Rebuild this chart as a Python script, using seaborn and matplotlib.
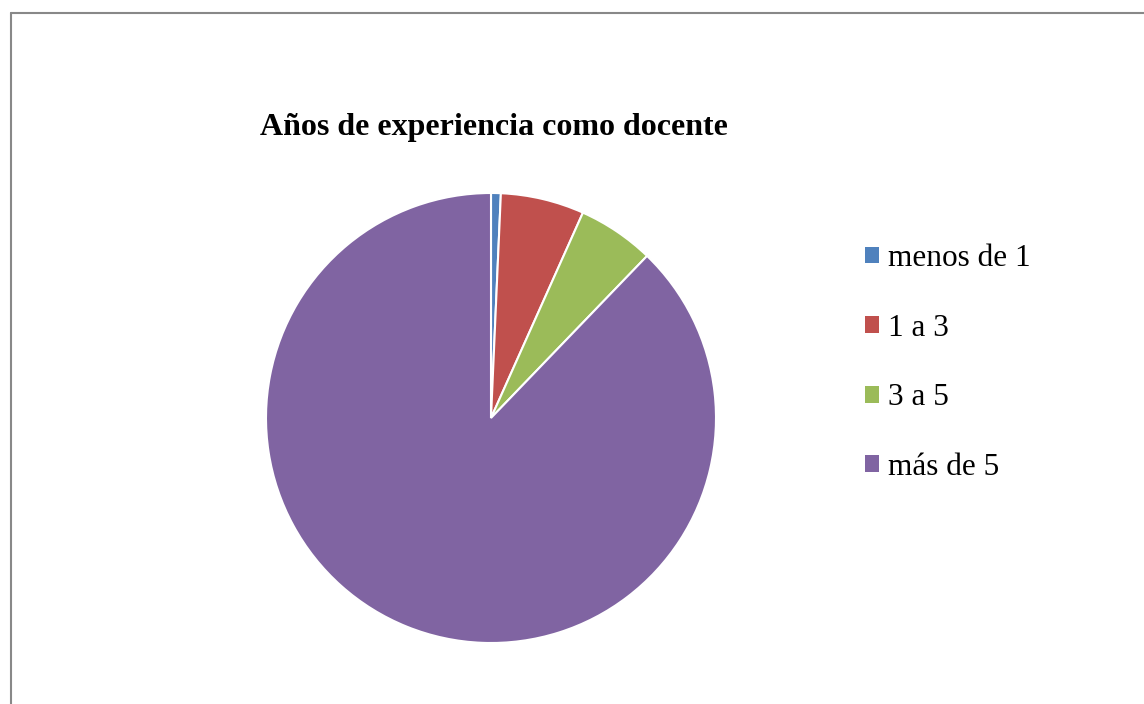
import matplotlib
matplotlib.use("Agg")
import matplotlib.pyplot as plt
import seaborn as sns
from matplotlib.patches import Patch
from matplotlib.lines import Line2D

categories = ["menos de 1", "1 a 3", "3 a 5", "más de 5"]
values = [0.7, 6.0, 5.5, 87.8]
colors = ["#4F81BD", "#C0504D", "#9BBB59", "#8064A2"]
title = "Años de experiencia como docente"

sns.set_theme(style="white")
plt.rcParams['font.family'] = ['Liberation Serif', 'DejaVu Serif']

fig = plt.figure(figsize=(11.44, 7.04), dpi=100)
fig.patch.set_facecolor("white")
ax = fig.add_axes([266/1144, (704-643)/704, 450/1144, 450/704])
wedges, _ = ax.pie(values, colors=colors, startangle=90, counterclock=False,
                   radius=1.0,
                   wedgeprops=dict(edgecolor="white", linewidth=1.5))
ax.set_xlim(-1.0, 1.0)
ax.set_ylim(-1.0, 1.0)
ax.set_aspect("equal")
ax.axis("off")

fig.text(494/1144, 1 - 128/704, title, ha="center", va="center",
         fontsize=23, fontweight="bold", color="black")

handles = [Patch(facecolor=c, edgecolor="none") for c in colors]
fig.legend(handles, categories, loc="center left",
           bbox_to_anchor=(865/1144, 1 - 363/704), frameon=False,
           fontsize=22.5, labelspacing=1.30, handlelength=0.45, handleheight=0.45,
           handletextpad=0.29, borderpad=0, borderaxespad=0, labelcolor="black")

# outer chart border (top and left visible)
fig.add_artist(Line2D([11/1144, 11/1144], [0, 1 - 13/704], transform=fig.transFigure,
                      color="#888888", linewidth=1.5))
fig.add_artist(Line2D([11/1144, 1], [1 - 13/704, 1 - 13/704], transform=fig.transFigure,
                      color="#888888", linewidth=1.5))

fig.savefig("out.png", dpi=100, facecolor="white")
